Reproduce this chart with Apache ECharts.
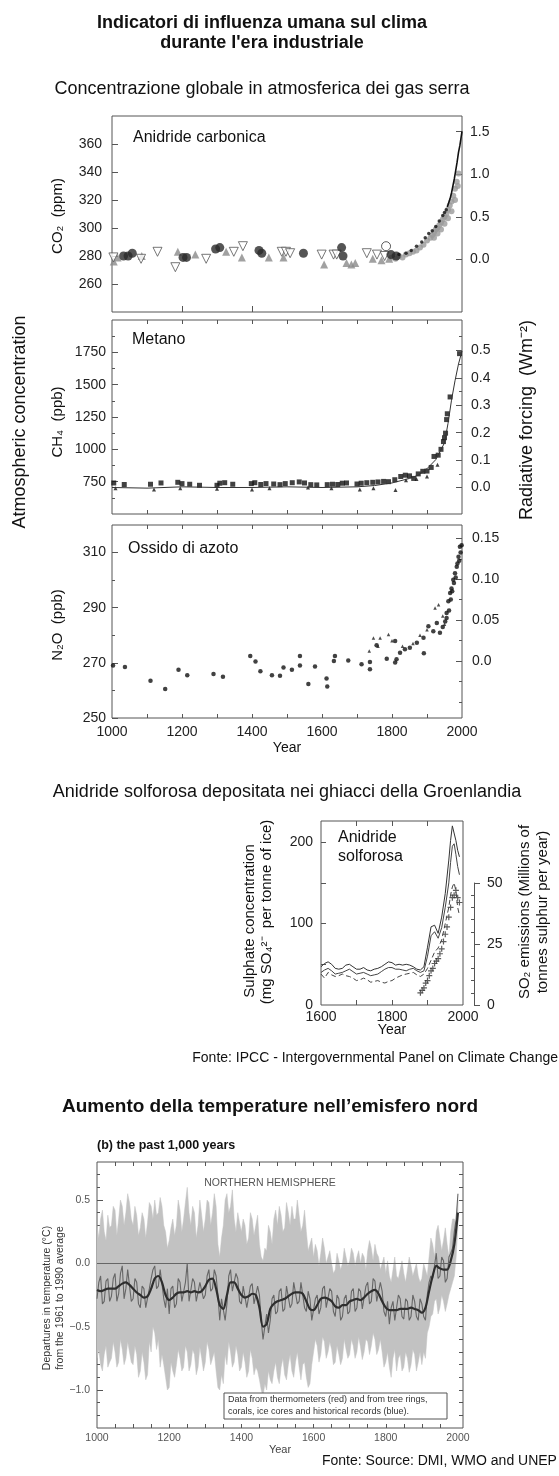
<!DOCTYPE html>
<html><head><meta charset="utf-8">
<script src="https://cdn.jsdelivr.net/npm/echarts@6/dist/echarts.min.js"></script>
<style>html,body{margin:0;padding:0;background:#fff}#c{width:559px;height:1476px}</style>
</head><body><div id="c"></div>
<script>
// ---------------- DATA ----------------
// CO2 (ppm)
const co2GreyTri = [[1005,276],[1016,279],[1085,280],[1188,283],[1238,281],[1326,283],[1371,279],[1448,279],[1490,279],[1606,274],[1670,275],[1684,274],[1695,275],[1745,278],[1770,277],[1792,278]];
const co2InvTri = [[1004,279],[1083,278],[1130,283],[1181,272],[1269,278],[1348,283],[1374,287],[1485,283],[1497,283],[1509,282],[1599,281],[1633,281],[1642,281],[1728,282],[1757,281],[1779,280]];
const co2BlackCirc = [[1033,280],[1046,280],[1058,282],[1203,279],[1213,279],[1296,285],[1308,286],[1420,284],[1428,282],[1547,282],[1656,286],[1660,280],[1797,281],[1812,280]];
const co2OpenCirc = [[1783,287]];
const co2GreyBand = [[1800,279],[1810,278],[1820,280],[1830,279],[1840,281],[1850,282],[1860,283],[1870,284],[1880,286],[1890,288],[1900,291],[1910,293],[1915,295],[1920,297],[1925,299],[1930,300],[1935,302],[1940,304],[1945,306],[1950,308],[1955,310],[1960,313],[1965,316],[1970,319],[1975,323],[1980,328],[1985,333],[1990,339],[1920,293],[1930,296],[1940,299],[1950,303],[1960,307],[1970,312],[1980,320],[1988,330]];
const co2Dots = [[1820,281],[1840,282],[1855,284],[1870,287],[1885,290],[1895,293],[1905,296],[1915,298],[1925,301],[1935,305],[1945,309],[1950,311],[1955,313]];
const co2Line = [[1958,315],[1962,318],[1966,321],[1970,325],[1974,330],[1978,335],[1982,341],[1986,347],[1990,354],[1994,359],[1997,364],[2000,369]];

// CH4 (ppb)
const ch4Sq = [[1005,740],[1035,728],[1110,730],[1140,740],[1188,745],[1200,735],[1222,730],[1250,722],[1300,722],[1308,738],[1322,742],[1345,730],[1398,735],[1408,742],[1425,728],[1440,735],[1462,732],[1480,727],[1495,735],[1515,742],[1535,748],[1550,740],[1568,727],[1585,725],[1615,727],[1630,730],[1645,728],[1658,738],[1670,740],[1700,732],[1712,738],[1728,742],[1745,745],[1760,748],[1776,752],[1790,750],[1808,765],[1825,790],[1838,800],[1850,795],[1862,775],[1875,810],[1888,830],[1900,832],[1912,860],[1920,945],[1932,955],[1940,1000],[1947,1060],[1950,1090],[1953,1125],[1956,1230],[1958,1275],[1966,1405],[1993,1740]];
const ch4Tri = [[1010,700],[1120,690],[1195,700],[1300,695],[1400,690],[1450,700],[1560,705],[1627,700],[1708,690],[1747,700],[1810,685],[1840,760],[1870,770],[1900,790],[1930,880]];
const ch4Line = [[1000,705],[1100,700],[1200,710],[1300,705],[1400,705],[1500,710],[1600,705],[1700,710],[1750,720],[1800,740],[1850,775],[1875,800],[1900,850],[1925,920],[1950,1050],[1960,1200],[1970,1380],[1980,1530],[1990,1660],[2000,1760]];

// N2O (ppb)
const n2oDots = [[1003,269],[1037,268.5],[1110,263.5],[1152,260.5],[1190,267.5],[1215,265.5],[1290,266],[1317,265],[1395,272.5],[1410,270.5],[1424,267],[1457,265.5],[1480,265.3],[1490,268.3],[1514,267.5],[1537,272.5],[1537,269],[1561,262.3],[1580,268.7],[1613,264.3],[1615,261.4],[1634,270.7],[1637,272.5],[1675,270.9],[1713,269.5],[1737,270.3],[1737,267.7],[1756,276.4],[1785,271.5],[1809,277.9],[1809,270.1],[1813,271.3],[1823,273.7],[1837,274.9],[1851,275.5],[1871,277.3],[1890,279.1],[1891,273.5],[1904,283.3],[1918,281.5],[1928,284.5],[1937,280.9],[1945,283],[1952,285],[1956,288.1],[1956,286.3],[1961,292.3],[1963,289],[1966,295.3],[1968,293],[1970,297],[1972,296],[1975,300.1],[1977,299],[1980,302.5],[1982,301],[1985,304.9],[1987,306],[1990,308.5],[1992,307],[1994,312.1],[1996,310],[1999,312.7]];
const n2oTri = [[1735,274.3],[1747,279],[1760,276],[1766,279],[1790,280.3],[1800,278],[1830,276],[1860,277],[1880,280],[1900,282],[1923,289.9],[1933,291.1],[1945,287],[1950,284]];

// Sulphate (mg SO4 per tonne of ice) and SO2 emissions (Mt S / yr)
const sulYears = [1600,1610,1620,1630,1640,1650,1660,1670,1680,1690,1700,1710,1720,1730,1740,1750,1760,1770,1780,1790,1800,1810,1820,1830,1840,1850,1860,1870,1880,1890,1900,1910,1920,1930,1940,1950,1960,1965,1970,1975,1980,1985,1990];
const sulA = [47,51,53,50,45,44,45,49,50,47,44,44,46,43,42,44,45,47,50,53,52,49,50,49,50,49,47,44,43,47,71,96,98,88,108,137,178,202,220,218,202,190,182];
const sulB = [40,43,45,42,38,39,40,42,44,41,38,39,40,38,36,37,38,41,44,46,46,44,44,43,42,44,45,42,40,42,60,85,90,82,95,120,150,175,195,198,185,170,160];
const sulC = [38,33,40,37,35,36,38,36,35,33,30,31,33,31,28,29,30,28,27,29,30,33,35,37,38,39,40,37,35,38,45,55,65,70,80,100,120,135,145,150,140,120,110];
const so2Emis = [[1880,5],[1885,6],[1890,7],[1895,9],[1900,10],[1905,12],[1910,14],[1915,15],[1920,17],[1925,18],[1930,19],[1935,21],[1940,23],[1945,26],[1950,29],[1955,32],[1960,36],[1965,40],[1970,44],[1975,45],[1980,47],[1985,44],[1990,42]];

// Northern hemisphere temperature departures (°C)
const tempYears = [1000,1010,1020,1030,1040,1050,1060,1070,1080,1090,1100,1110,1120,1130,1140,1150,1160,1170,1180,1190,1200,1210,1220,1230,1240,1250,1260,1270,1280,1290,1300,1310,1320,1330,1340,1350,1360,1370,1380,1390,1400,1410,1420,1430,1440,1450,1460,1470,1480,1490,1500,1510,1520,1530,1540,1550,1560,1570,1580,1590,1600,1610,1620,1630,1640,1650,1660,1670,1680,1690,1700,1710,1720,1730,1740,1750,1760,1770,1780,1790,1800,1810,1820,1830,1840,1850,1860,1870,1880,1890,1900,1910,1920,1930,1940,1950,1960,1970,1980,1990,2000];
const tempMidYears = [1005,1015,1025,1035,1045,1055,1065,1075,1085,1095,1105,1115,1125,1135,1145,1155,1165,1175,1185,1195,1205,1215,1225,1235,1245,1255,1265,1275,1285,1295,1305,1315,1325,1335,1345,1355,1365,1375,1385,1395,1405,1415,1425,1435,1445,1455,1465,1475,1485,1495,1505,1515,1525,1535,1545,1555,1565,1575,1585,1595,1605,1615,1625,1635,1645,1655,1665,1675,1685,1695,1705,1715,1725,1735,1745,1755,1765,1775,1785,1795,1805,1815,1825,1835,1845,1855,1865,1875,1885,1895,1905,1915,1925,1935,1945,1955,1965,1975,1985,1995];
const tempSmooth = [-0.21,-0.22,-0.21,-0.20,-0.20,-0.20,-0.18,-0.16,-0.15,-0.17,
 -0.20,-0.23,-0.25,-0.27,-0.26,-0.20,-0.12,-0.10,-0.15,-0.25,
 -0.29,-0.27,-0.24,-0.23,-0.23,-0.22,-0.23,-0.22,-0.23,-0.22,
 -0.18,-0.13,-0.12,-0.20,-0.33,-0.36,-0.25,-0.15,-0.15,-0.20,
 -0.25,-0.27,-0.26,-0.24,-0.25,-0.35,-0.50,-0.48,-0.36,-0.32,
 -0.30,-0.29,-0.28,-0.26,-0.24,-0.23,-0.23,-0.24,-0.30,-0.36,
 -0.37,-0.33,-0.28,-0.27,-0.28,-0.30,-0.34,-0.35,-0.33,-0.33,
 -0.30,-0.29,-0.28,-0.29,-0.27,-0.24,-0.22,-0.21,-0.24,-0.30,
 -0.35,-0.37,-0.37,-0.37,-0.36,-0.36,-0.36,-0.35,-0.36,-0.37,
 -0.39,-0.35,-0.22,-0.10,-0.02,-0.04,-0.05,-0.05,0.02,0.15,
 0.40];
const tempAnnual = [-0.28,-0.10,-0.30,-0.12,-0.26,-0.08,-0.24,-0.02,-0.20,-0.05,
 -0.28,-0.15,-0.35,-0.20,-0.34,-0.12,-0.02,-0.18,-0.05,-0.35,
 -0.40,-0.18,-0.32,-0.15,-0.30,0.00,-0.30,-0.15,-0.30,-0.14,
 -0.25,-0.05,-0.20,-0.10,-0.45,-0.28,-0.32,-0.05,-0.22,-0.12,
 -0.32,-0.18,-0.35,-0.16,-0.32,-0.25,-0.60,-0.40,-0.45,-0.25,
 -0.38,-0.20,-0.36,-0.18,-0.32,-0.15,-0.30,-0.16,-0.38,-0.28,
 -0.45,-0.25,-0.35,-0.18,-0.36,-0.22,-0.42,-0.28,-0.42,-0.25,
 -0.38,-0.20,-0.35,-0.22,-0.35,-0.15,-0.30,-0.14,-0.30,-0.22,
 -0.42,-0.48,-0.30,-0.45,-0.28,-0.44,-0.30,-0.42,-0.30,-0.45,
 -0.32,-0.45,-0.15,-0.12,0.08,-0.10,0.02,-0.12,0.08,0.25,
 0.55];
const tempAnnualMid = [-0.15,-0.32,-0.14,-0.30,-0.12,-0.30,-0.08,-0.28,-0.05,-0.30,
 -0.12,-0.32,-0.18,-0.35,-0.20,-0.05,-0.20,-0.05,-0.28,-0.20,
 -0.20,-0.35,-0.12,-0.30,-0.15,-0.30,-0.12,-0.30,-0.15,-0.28,
 -0.10,-0.22,-0.05,-0.25,-0.28,-0.45,-0.10,-0.22,-0.08,-0.30,
 -0.18,-0.35,-0.18,-0.32,-0.18,-0.45,-0.50,-0.55,-0.28,-0.40,
 -0.22,-0.38,-0.18,-0.35,-0.15,-0.32,-0.15,-0.35,-0.22,-0.45,
 -0.28,-0.40,-0.20,-0.35,-0.20,-0.38,-0.25,-0.45,-0.28,-0.40,
 -0.22,-0.38,-0.20,-0.36,-0.18,-0.32,-0.12,-0.30,-0.15,-0.38,
 -0.30,-0.35,-0.45,-0.25,-0.42,-0.28,-0.45,-0.25,-0.42,-0.28,
 -0.42,-0.25,-0.10,-0.02,-0.12,0.05,-0.15,0.05,0.12,0.35];
const tempUpper = [0.30,0.35,0.25,0.38,0.30,0.42,0.35,0.45,0.40,0.48,
 0.30,0.38,0.28,0.35,0.32,0.45,0.50,0.40,0.45,0.25,
 0.18,0.35,0.30,0.42,0.35,0.60,0.30,0.40,0.30,0.38,
 0.35,0.48,0.40,0.45,0.05,0.30,0.55,0.45,0.35,0.40,
 0.25,0.30,0.20,0.35,0.30,0.15,0.02,0.10,0.25,0.35,
 0.30,0.38,0.28,0.40,0.45,0.35,0.38,0.30,0.25,0.15,
 0.05,0.10,0.08,0.12,0.05,0.00,-0.05,0.02,0.00,0.05,
 0.02,0.08,0.05,0.00,0.05,0.10,0.12,0.15,0.05,0.00,
 -0.08,-0.10,-0.05,-0.10,-0.05,-0.08,-0.05,-0.02,-0.05,-0.10,
 -0.12,-0.05,0.05,0.15,0.25,0.20,0.18,0.15,0.25,0.35,
 0.50];
const tempUpperMid = [0.20,0.42,0.18,0.28,0.45,0.22,0.50,0.30,0.55,0.35,
 0.45,0.22,0.40,0.20,0.48,0.35,0.38,0.52,0.30,0.12,
 0.28,0.22,0.50,0.25,0.48,0.40,0.45,0.20,0.50,0.25,
 0.50,0.30,0.55,0.15,0.20,0.50,0.40,0.58,0.25,0.32,
 0.35,0.15,0.40,0.22,0.38,0.05,0.12,0.30,0.15,0.42,
 0.45,0.25,0.48,0.30,0.35,0.50,0.25,0.42,0.10,0.20,
 0.15,-0.02,0.20,0.00,0.10,-0.08,0.08,-0.05,0.12,-0.02,
 0.12,-0.02,0.10,0.08,-0.05,0.18,0.02,0.08,-0.05,0.05,
 0.02,-0.15,0.05,-0.12,0.02,-0.15,0.05,-0.10,0.00,-0.15,
 0.00,-0.10,0.20,0.05,0.30,0.10,0.28,0.05,0.35,0.30];
const tempLower = [-0.75,-0.80,-0.72,-0.82,-0.75,-0.70,-0.78,-0.68,-0.75,-0.70,
 -0.80,-0.72,-0.85,-0.78,-0.88,-0.70,-0.55,-0.60,-0.72,-0.90,
 -0.98,-0.85,-0.80,-0.75,-0.82,-0.70,-0.80,-0.72,-0.82,-0.75,
 -0.78,-0.68,-0.75,-0.85,-1.00,-0.95,-0.80,-0.70,-0.78,-0.72,
 -0.82,-0.78,-0.85,-0.75,-0.82,-0.92,-1.05,-1.00,-0.92,-0.85,
 -0.90,-0.82,-0.88,-0.80,-0.85,-0.78,-0.82,-0.80,-0.90,-0.95,
 -0.70,-0.65,-0.72,-0.62,-0.70,-0.68,-0.78,-0.72,-0.75,-0.68,
 -0.72,-0.65,-0.70,-0.66,-0.70,-0.62,-0.65,-0.60,-0.68,-0.70,
 -0.78,-0.82,-0.75,-0.85,-0.72,-0.82,-0.75,-0.80,-0.72,-0.78,
 -0.80,-0.75,-0.50,-0.40,-0.28,-0.35,-0.30,-0.32,-0.20,-0.10,
 0.30];
const tempLowerMid = [-0.68,-0.85,-0.65,-0.78,-0.62,-0.82,-0.60,-0.80,-0.62,-0.78,
 -0.65,-0.90,-0.70,-0.92,-0.62,-0.50,-0.68,-0.82,-0.80,-1.00,
 -0.78,-0.90,-0.68,-0.85,-0.65,-0.85,-0.68,-0.88,-0.66,-0.85,
 -0.62,-0.80,-0.70,-0.98,-0.88,-0.72,-0.62,-0.82,-0.65,-0.85,
 -0.70,-0.90,-0.68,-0.88,-0.85,-1.00,-0.95,-0.85,-0.95,-0.78,
 -0.95,-0.75,-0.92,-0.72,-0.90,-0.70,-0.92,-0.78,-0.98,-0.80,
 -0.60,-0.78,-0.58,-0.75,-0.62,-0.80,-0.65,-0.80,-0.60,-0.75,
 -0.60,-0.75,-0.58,-0.76,-0.60,-0.72,-0.55,-0.72,-0.60,-0.82,
 -0.70,-0.90,-0.68,-0.75,-0.85,-0.70,-0.86,-0.68,-0.85,-0.70,
 -0.70,-0.55,-0.42,-0.30,-0.40,-0.25,-0.38,-0.25,-0.15,0.05];

// tick / label values
const yearTicks100 = [1100,1200,1300,1400,1500,1600,1700,1800,1900];
const yearLabels = [1000,1200,1400,1600,1800,2000];
const co2Labels = [260,280,300,320,340,360];
const co2RfLabels = [0,0.5,1,1.5];
const ch4Labels = [750,1000,1250,1500,1750];
const ch4Minor = [625,875,1125,1375,1625,1875];
const ch4RfLabels = [0,0.1,0.2,0.3,0.4,0.5];
const ch4RfMinor = [0.05,0.15,0.25,0.35,0.45,0.55];
const n2oLabels = [250,270,290,310];
const n2oMinor = [260,280,300];
const n2oRfLabels = [0,0.05,0.10,0.15];
const n2oRfMinor = [-0.05,-0.025,0.025,0.075,0.125];
const sulLabels = [0,100,200];
const sulTicks = [50,100,150,200];
const sulYearLabels = [1600,1800,2000];
const sulYearTicks = [1700,1800,1900];
const so2Labels = [0,25,50];
const so2Minor = [5,10,15,20,30,35,40,45];
const tYearTicks = [1050,1100,1150,1200,1250,1300,1350,1400,1450,1500,1550,1600,1650,1700,1750,1800,1850,1900,1950];
const tLabels = [-1.0,-0.5,0,0.5];
const tMinor = [-1.2,-1.1,-0.9,-0.8,-0.7,-0.6,-0.4,-0.3,-0.2,-0.1,0.1,0.2,0.3,0.4,0.6,0.7];

// ---------------- CHART ----------------
const F = '"Liberation Sans", Arial, Helvetica, sans-serif';
const chart = echarts.init(document.getElementById('c'), null, {renderer:'canvas', width:559, height:1476});

const gridStyle = {show:true, borderColor:'#555', borderWidth:1, backgroundColor:'rgba(0,0,0,0)', containLabel:false, outerBoundsMode:'none'};
const grids = [
  Object.assign({left:112, top:116, width:350, height:196}, gridStyle), // 0 CO2
  Object.assign({left:112, top:320, width:350, height:194}, gridStyle), // 1 CH4
  Object.assign({left:112, top:525, width:350, height:193}, gridStyle), // 2 N2O
  Object.assign({left:321, top:821, width:142, height:184}, gridStyle), // 3 sulphate
  {left:473, top:883, width:1, height:122, show:false, containLabel:false, outerBoundsMode:'none'}, // 4 SO2 axis
  Object.assign({left:97, top:1162, width:366, height:266}, gridStyle)  // 5 temperature
];

function ax(g, pos, min, max, o) {
  o = o || {};
  const a = {
    type:'value', gridIndex:g, position:pos, min:min, max:max, show:o.show !== false,
    offset:o.offset || 0,
    axisLine:{show:!!o.line, onZero:false, lineStyle:{color:'#555', width:1}},
    splitLine:{show:false},
    axisPointer:{show:false},
    axisTick:{show:!!o.ticks, inside:!o.outside, length:o.tlen || 5, lineStyle:{color:'#555', width:1}},
    axisLabel:{show:!!o.labels, formatter:o.fmt || (v => String(v)), color:o.color || '#222',
      fontFamily:F, fontSize:o.fs || 14, margin:o.margin == null ? 8 : o.margin, hideOverlap:false}
  };
  if (o.ticks) a.axisTick.customValues = o.ticks;
  if (o.labels) a.axisLabel.customValues = o.labels;
  return a;
}
const xAxes = [], yAxes = [];
const X = o => (xAxes.push(o), xAxes.length - 1);
const Y = o => (yAxes.push(o), yAxes.length - 1);
const f1 = v => v.toFixed(1);
const f2 = v => v === 0 ? '0.0' : v.toFixed(2);
const fT = v => (v < 0 ? '\u2212' + Math.abs(v).toFixed(1) : v.toFixed(1));

// CO2 grid
const xCO2 = X(ax(0,'bottom',1000,2000,{ticks:[1200,1400,1600,1800], tlen:6}));
const yCO2 = Y(ax(0,'left',240,380,{labels:co2Labels, ticks:co2Labels, tlen:6, margin:10}));
Y(ax(0,'right',-0.62,1.685,{labels:co2RfLabels, ticks:co2RfLabels, tlen:6, fmt:f1, margin:8}));
// CH4 grid
const xCH4 = X(ax(1,'bottom',1000,2000,{ticks:yearTicks100, tlen:4}));
X(ax(1,'top',1000,2000,{ticks:yearTicks100, tlen:4}));
const yCH4 = Y(ax(1,'left',500,2000,{labels:ch4Labels, ticks:ch4Labels, tlen:6, margin:6}));
Y(ax(1,'left',500,2000,{ticks:ch4Minor, tlen:3}));
Y(ax(1,'right',-0.096,0.6105,{labels:ch4RfLabels, ticks:ch4RfLabels, tlen:6, fmt:f1, margin:9}));
Y(ax(1,'right',-0.096,0.6105,{ticks:ch4RfMinor, tlen:3}));
// N2O grid
const xN2O = X(ax(2,'bottom',1000,2000,{labels:yearLabels, ticks:yearTicks100, tlen:4, margin:7}));
X(ax(2,'top',1000,2000,{ticks:yearTicks100, tlen:4}));
const yN2O = Y(ax(2,'left',250,320,{labels:n2oLabels, ticks:n2oLabels, tlen:6, margin:6}));
Y(ax(2,'left',250,320,{ticks:n2oMinor, tlen:3}));
Y(ax(2,'right',-0.0697,0.1663,{labels:n2oRfLabels, ticks:n2oRfLabels, tlen:6, fmt:f2, margin:10}));
Y(ax(2,'right',-0.0697,0.1663,{ticks:n2oRfMinor, tlen:3}));
// Sulphate grid
const xSul = X(ax(3,'bottom',1600,2000,{labels:sulYearLabels, ticks:sulYearTicks, tlen:5, margin:5}));
X(ax(3,'top',1600,2000,{ticks:sulYearTicks, tlen:5}));
const ySul = Y(ax(3,'left',0,226,{labels:sulLabels, ticks:sulTicks, tlen:5, margin:8}));
const ySO2h = Y(ax(3,'right',0,75.4,{show:false}));
// SO2 axis (own short grid)
X(ax(4,'bottom',0,1,{show:false}));
Y(ax(4,'right',0,50,{labels:so2Labels, ticks:so2Labels, tlen:6, outside:true, line:true, margin:13}));
Y(ax(4,'right',0,50,{ticks:so2Minor, tlen:3}));
// Temperature grid
const xT = X(ax(5,'bottom',1000,2014,{labels:yearLabels, ticks:tYearTicks, tlen:4, margin:5, fs:10.5, color:'#555'}));
X(ax(5,'top',1000,2014,{ticks:tYearTicks, tlen:4}));
const yT = Y(ax(5,'left',-1.3,0.8,{labels:tLabels, ticks:tLabels, tlen:6, fmt:fT, margin:7, fs:10.5, color:'#555'}));
Y(ax(5,'left',-1.3,0.8,{ticks:tMinor, tlen:3}));
Y(ax(5,'right',-1.3,0.8,{ticks:tMinor.concat(tLabels), tlen:4}));

const zip = (xs, ys) => xs.map((x, i) => [x, ys[i]]);
// interleave decade values with the half-decade values (both typed above)
function weave(ys, midYs) {
  const out = [];
  for (let i = 0; i < tempYears.length; i++) {
    out.push([tempYears[i], ys[i]]);
    if (i < tempMidYears.length) out.push([tempMidYears[i], midYs[i]]);
  }
  return out;
}
const bandUpper = weave(tempUpper, tempUpperMid);
const bandLower = weave(tempLower, tempLowerMid);
const annualPts = weave(tempAnnual, tempAnnualMid);

function sc(xi, yi, data, sym, size, color, extra) {
  return Object.assign({type:'scatter', xAxisIndex:xi, yAxisIndex:yi, data:data, symbol:sym, symbolSize:size,
    itemStyle:{color:color}, silent:true, animation:false}, extra || {});
}
function ln(xi, yi, data, color, width, extra) {
  return Object.assign({type:'line', xAxisIndex:xi, yAxisIndex:yi, data:data, symbol:'none', showSymbol:false,
    lineStyle:{color:color, width:width}, silent:true, animation:false}, extra || {});
}
const CROSS = 'path://M4,0H6V4H10V6H6V10H4V6H0V4H4Z';

// uncertainty band drawn as one polygon through the axis scales
const bandSeries = {
  type:'custom', xAxisIndex:xT, yAxisIndex:yT, data:[[1000, 0]], clip:true, silent:true, z:1, animation:false,
  renderItem:function(params, api) {
    const pts = [];
    for (let i = 0; i < bandUpper.length; i++) pts.push(api.coord(bandUpper[i]));
    for (let i = bandLower.length - 1; i >= 0; i--) pts.push(api.coord(bandLower[i]));
    return {type:'polygon', shape:{points:pts}, style:{fill:'#c2c2c2', stroke:'#c2c2c2', lineWidth:0.5}};
  }
};

const series = [
  // CO2
  sc(xCO2, yCO2, co2GreyBand, 'circle', 6, '#9a9a9a'),
  sc(xCO2, yCO2, co2GreyTri, 'triangle', 8, '#8a8a8a'),
  sc(xCO2, yCO2, co2InvTri, 'triangle', 9, '#ffffff', {symbolRotate:180, itemStyle:{color:'#fff', borderColor:'#555', borderWidth:1}}),
  sc(xCO2, yCO2, co2BlackCirc, 'circle', 9, '#2a2a2a'),
  sc(xCO2, yCO2, co2OpenCirc, 'circle', 9, '#fff', {itemStyle:{color:'#fff', borderColor:'#333', borderWidth:1}}),
  sc(xCO2, yCO2, co2Dots, 'circle', 3.5, '#111'),
  ln(xCO2, yCO2, co2Line, '#111', 1.6),
  // CH4
  ln(xCH4, yCH4, ch4Line, '#333', 1),
  sc(xCH4, yCH4, ch4Sq, 'rect', 5, '#111'),
  sc(xCH4, yCH4, ch4Tri, 'triangle', 4, '#111'),
  // N2O
  sc(xN2O, yN2O, n2oDots, 'circle', 4.5, '#111'),
  sc(xN2O, yN2O, n2oTri, 'triangle', 3.5, '#222'),
  // Sulphate
  ln(xSul, ySul, zip(sulYears, sulA), '#333', 1),
  ln(xSul, ySul, zip(sulYears, sulB), '#444', 1),
  ln(xSul, ySul, zip(sulYears, sulC), '#444', 1, {lineStyle:{color:'#444', width:1, type:[5,3]}}),
  sc(xSul, ySO2h, so2Emis, CROSS, 6, '#333'),
  // Temperature
  bandSeries,
  ln(xT, yT, annualPts, '#666', 1.1, {z:3}),
  ln(xT, yT, zip(tempYears, tempSmooth), '#2e2e2e', 2.2, {smooth:0.3, z:4,
    markLine:{silent:true, symbol:'none', label:{show:false}, lineStyle:{color:'#666', width:1, type:'solid'}, data:[{yAxis:0}]}})
];

function T(x, y, text, o) {
  o = o || {};
  const font = (o.bold ? 'bold ' : '') + (o.fs || 14) + 'px ' + F;
  return {type:'text', x:x, y:y, rotation:o.rot ? Math.PI / 2 : 0, silent:true, z:100,
    style:{text:text, fill:o.color || '#111', font:font, textAlign:o.align || 'center', textVerticalAlign:'middle',
      align:o.align || 'center', verticalAlign:'middle'}};
}
const graphics = [
  T(262, 23, 'Indicatori di influenza umana sul clima', {bold:true, fs:18}),
  T(262, 43, "durante l'era industriale", {bold:true, fs:18}),
  T(262, 89, 'Concentrazione globale in atmosferica dei gas serra', {fs:18}),
  T(133, 138, 'Anidride carbonica', {fs:16, align:'left'}),
  T(132, 340, 'Metano', {fs:16, align:'left'}),
  T(128, 549, 'Ossido di azoto', {fs:16, align:'left'}),
  T(58, 216, 'CO\u2082  (ppm)', {fs:15, rot:true}),
  T(58, 422, 'CH\u2084  (ppb)', {fs:15, rot:true}),
  T(58, 625, 'N\u2082O  (ppb)', {fs:15, rot:true}),
  T(20, 422, 'Atmospheric concentration', {fs:18, rot:true}),
  T(527, 420, 'Radiative forcing  (Wm\u207B\u00B2)', {fs:18, rot:true}),
  T(287, 748, 'Year', {fs:14}),
  T(287, 792, 'Anidride solforosa depositata nei ghiacci della Groenlandia', {fs:18}),
  T(338, 838, 'Anidride', {fs:16, align:'left'}),
  T(338, 857, 'solforosa', {fs:16, align:'left'}),
  T(250, 921, 'Sulphate concentration', {fs:15, rot:true}),
  T(267, 912, '(mg SO\u2084\u00B2\u207B  per tonne of ice)', {fs:15, rot:true}),
  T(525, 912, 'SO\u2082 emissions (Millions of', {fs:15, rot:true}),
  T(543, 912, 'tonnes sulphur per year)', {fs:15, rot:true}),
  T(392, 1030, 'Year', {fs:14}),
  T(558, 1058, 'Fonte: IPCC - Intergovernmental Panel on Climate Change', {fs:14, align:'right'}),
  T(270, 1107, 'Aumento della temperature nell\u2019emisfero nord', {bold:true, fs:19}),
  T(97, 1146, '(b) the past 1,000 years', {bold:true, fs:12.5, align:'left'}),
  T(270, 1183, 'NORTHERN HEMISPHERE', {fs:10.5, color:'#555'}),
  T(47, 1298, 'Departures in temperature (\u00B0C)', {fs:10.5, rot:true, color:'#333'}),
  T(60, 1298, 'from the 1961 to 1990 average', {fs:10.5, rot:true, color:'#333'}),
  {type:'rect', z:90, silent:true, shape:{x:224, y:1393, width:223, height:26}, style:{fill:'#fff', stroke:'#555', lineWidth:1}},
  T(228, 1400, 'Data from thermometers (red) and from tree rings,', {fs:9, align:'left', color:'#333'}),
  T(228, 1412, 'corals, ice cores and historical records (blue).', {fs:9, align:'left', color:'#333'}),
  T(280, 1450, 'Year', {fs:11, color:'#444'}),
  T(322, 1461, 'Fonte: Source: DMI, WMO and UNEP', {fs:14, align:'left'})
];

chart.setOption({
  animation:false,
  backgroundColor:'#fff',
  grid:grids, xAxis:xAxes, yAxis:yAxes, series:series,
  graphic:{elements:graphics}
});
</script></body></html>
